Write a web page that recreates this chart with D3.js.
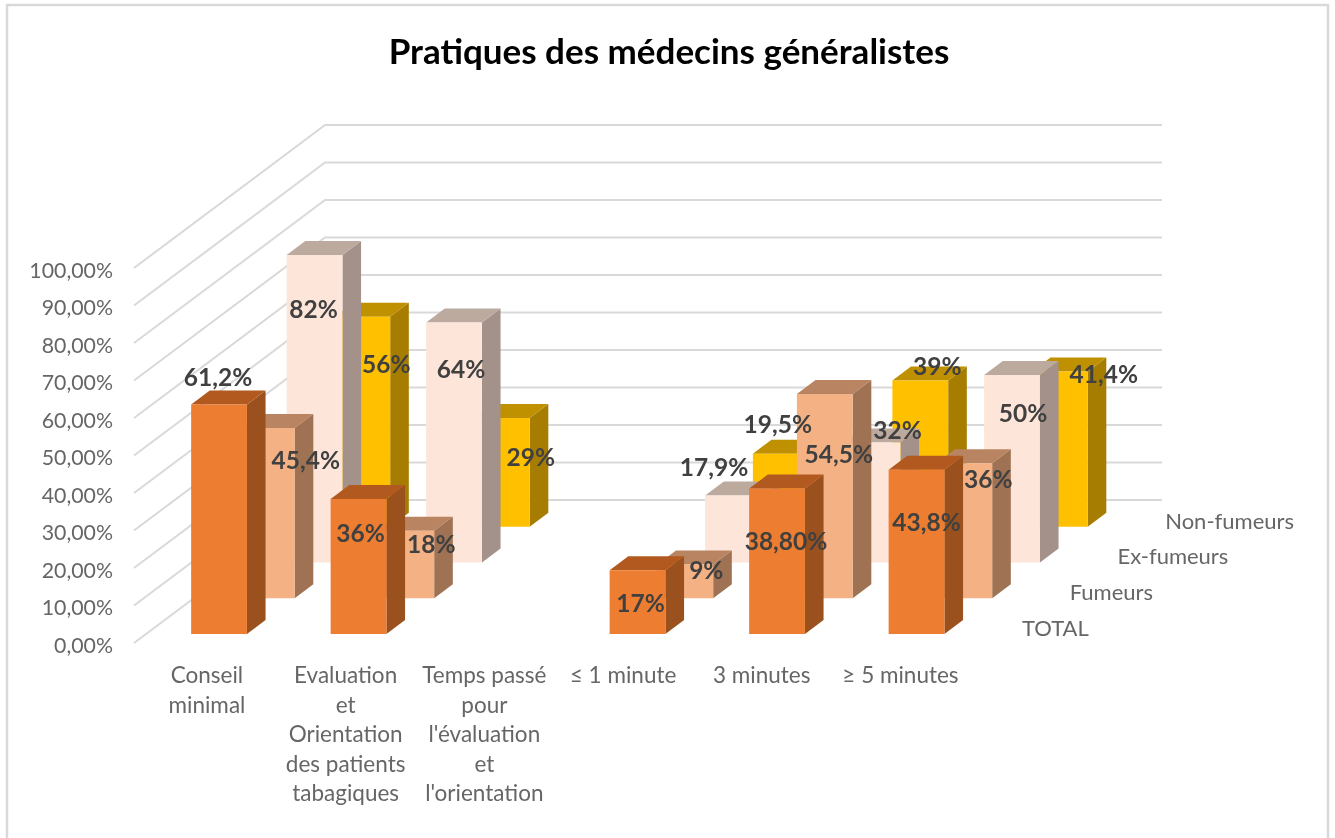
<html>
	<head>
		<meta charset="utf-8">
		<title>Pratiques des médecins généralistes</title>
		<script src="https://d3js.org/d3.v7.min.js"></script>
		<style>
			body { margin: 0; background: #fff; }
			svg { filter: blur(0.45px); }
			text { font-family: Lato, "Open Sans", sans-serif; }
		</style>
	</head>
	<body>
		<svg id="chart" width="1335" height="838"></svg>
	</body>
	<script>
		var categories = [
			["Conseil", "minimal"],
			["Evaluation", "et", "Orientation", "des patients", "tabagiques"],
			["Temps passé", "pour", "l'évaluation", "et", "l'orientation"],
			["≤ 1 minute"],
			["3 minutes"],
			["≥ 5 minutes"]
		];
		var series = ["TOTAL", "Fumeurs", "Ex-fumeurs", "Non-fumeurs"];
		var yTicks = [0, 10, 20, 30, 40, 50, 60, 70, 80, 90, 100];

		var total = [61.2, 36, null, 17, 38.8, 43.8];
		var fumeurs = [45.4, 18, null, 9, 54.5, 36];
		var exFumeurs = [82, 64, null, 17.9, 32, 50];
		var nonFumeurs = [56, 29, null, 19.5, 39, 41.4];
		var values = [total, fumeurs, exFumeurs, nonFumeurs];

		var totalLabels = ["61,2%", "36%", "", "17%", "38,80%", "43,8%"];
		var fumeursLabels = ["45,4%", "18%", "", "9%", "54,5%", "36%"];
		var exFumeursLabels = ["82%", "64%", "", "17,9%", "32%", "50%"];
		var nonFumeursLabels = ["56%", "29%", "", "19,5%", "39%", "41,4%"];
		var labels = [totalLabels, fumeursLabels, exFumeursLabels, nonFumeursLabels];

		// hand placed labels in the original, shift from top centre of each bar
		var labelShift = [
			[[-1, -27], [2, 34], null, [3, 33], [9, 53], [10, 53]],
			[[39, 32], [25, 14], null, [21, 6], [14, 60], [24, 16]],
			[[-1, 54], [7, 47], null, [-19, -28], [25, -12], [11, 38]],
			[[24, 48], [29, 39], null, [-3, -29], [17, -14], [44, 3]]
		];

		// front, side, top
		var colors = [
			["#ed7d31", "#9a511d", "#b1591f"],
			["#f4b183", "#9e7252", "#b98461"],
			["#fde5d9", "#a3918a", "#bdaa9f"],
			["#ffc000", "#a67d00", "#bf9000"]
		];

		var depthX = 191, depthY = 143;
		var svg = d3.select("#chart");

		var x = d3.scaleBand()
			.domain(d3.range(categories.length))
			.range([134, 971])
			.paddingInner(0.6)
			.paddingOuter(0.3)
			.align(0.54);
		var y = d3.scaleLinear().domain([0, 100]).range([643, 268]);
		var z = d3.scaleBand()
			.domain(series)
			.range([0, 1])
			.paddingInner(0.61)
			.paddingOuter(0.305)
			.align(0.41);

		function px(xv, d){ return xv + d*depthX; }
		function py(v, d){ return y(v) - d*depthY; }

		// frame
		svg.append("rect")
			.attr("x", 7).attr("y", 5)
			.attr("width", 1321).attr("height", 900)
			.attr("fill", "#fff")
			.attr("stroke", "#d9d9d9")
			.attr("stroke-width", 2.5);

		svg.append("text")
			.attr("x", 669)
			.attr("y", 52)
			.attr("dy", ".35em")
			.attr("text-anchor", "middle")
			.attr("font-size", 35)
			.attr("font-weight", 700)
			.attr("fill", "#000")
			.text("Pratiques des médecins généralistes");

		// floor to wall gridlines
		svg.append("g").selectAll("path")
			.data(yTicks)
			.enter()
			.append("path")
			.attr("fill", "none")
			.attr("stroke", "#d9d9d9")
			.attr("stroke-width", 2)
			.attr("d", function(t){
				return d3.line()([
					[px(x.range()[0], 0), py(t, 0)],
					[px(x.range()[0], 1), py(t, 1)],
					[px(x.range()[1], 1), py(t, 1)]
				]);
			});

		// value axis
		var yAxis = svg.append("g")
			.attr("transform", "translate(117,2.5)")
			.call(d3.axisLeft(y)
				.tickValues(yTicks)
				.tickSize(0)
				.tickPadding(4)
				.tickFormat(function(t){ return d3.format(".2f")(t).replace(".", ",") + "%"; }));
		yAxis.select(".domain").remove();
		yAxis.selectAll("text").attr("font-size", 21.3).attr("fill", "#666");

		// category axis, one tspan per line
		var xTick = d3.scaleBand()
			.domain(d3.range(categories.length))
			.range([137.6, 969.8]);
		var xAxis = svg.append("g")
			.attr("transform", "translate(0,661)")
			.call(d3.axisBottom(xTick).tickSize(0).tickFormat(""));
		xAxis.select(".domain").remove();
		xAxis.selectAll("text")
			.attr("font-size", 22.5)
			.attr("fill", "#666")
			.attr("y", 0)
			.attr("dy", 0)
			.each(function(i){
				d3.select(this).selectAll("tspan")
					.data(categories[i])
					.enter()
					.append("tspan")
					.attr("x", 0)
					.attr("y", function(l, k){ return 22 + k*29.5; })
					.text(function(l){ return l; });
			});

		// series names along the depth axis
		svg.append("g").selectAll("text")
			.data(series)
			.enter()
			.append("text")
			.attr("x", function(s){ return px(x.range()[1], z(s)) + 39; })
			.attr("y", function(s){ return py(0, z(s)) - 6; })
			.attr("dy", ".35em")
			.attr("font-size", 22)
			.attr("fill", "#666")
			.text(function(s){ return s; });

		// bars, back row first
		var bars = [];
		d3.range(series.length).reverse().forEach(function(r){
			values[r].forEach(function(v, i){
				if (v !== null) bars.push({r: r, i: i, v: v});
			});
		});

		function face(d, pts){
			return d3.line()(pts.map(function(p){
				return [px(x(d.i) + p[0]*x.bandwidth(), z(series[d.r]) + p[1]*z.bandwidth()),
					py(p[2]*d.v, z(series[d.r]) + p[1]*z.bandwidth())];
			})) + "Z";
		}

		var bar = svg.append("g").selectAll("g")
			.data(bars)
			.enter()
			.append("g");
		bar.append("path")
			.attr("fill", function(d){ return colors[d.r][1]; })
			.attr("d", function(d){ return face(d, [[1,0,0],[1,1,0],[1,1,1],[1,0,1]]); });
		bar.append("path")
			.attr("fill", function(d){ return colors[d.r][2]; })
			.attr("d", function(d){ return face(d, [[0,0,1],[1,0,1],[1,1,1],[0,1,1]]); });
		bar.append("path")
			.attr("fill", function(d){ return colors[d.r][0]; })
			.attr("d", function(d){ return face(d, [[0,0,0],[1,0,0],[1,0,1],[0,0,1]]); });

		// data labels sit above every bar
		svg.append("g").selectAll("text")
			.data(bars)
			.enter()
			.append("text")
			.attr("x", function(d){
				return px(x(d.i) + x.bandwidth()/2, z(series[d.r])) + labelShift[d.r][d.i][0];
			})
			.attr("y", function(d){
				return py(d.v, z(series[d.r])) + labelShift[d.r][d.i][1];
			})
			.attr("dy", ".35em")
			.attr("text-anchor", "middle")
			.attr("font-size", 24.5)
			.attr("font-weight", 700)
			.attr("fill", "#404040")
			.text(function(d){ return labels[d.r][d.i]; });
	</script>
</html>
